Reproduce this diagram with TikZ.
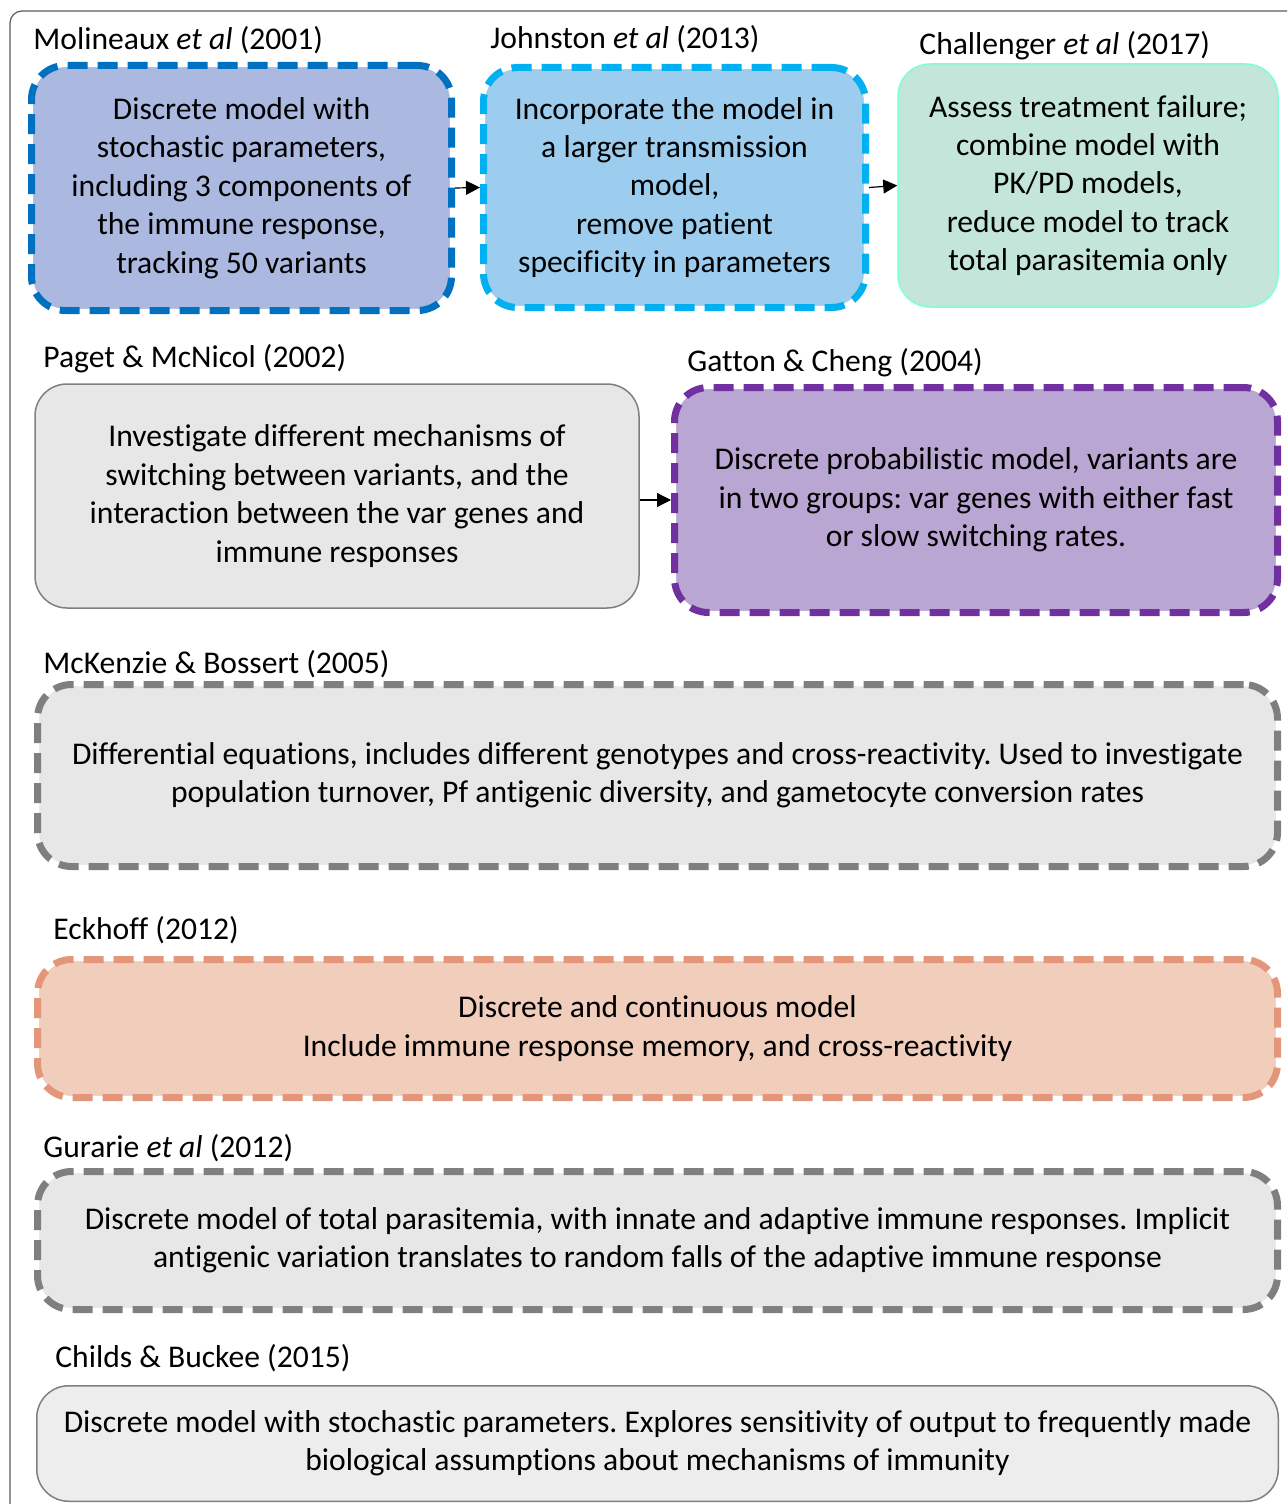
\documentclass[tikz,border=0pt]{standalone}
\usepackage{fontspec}
\setmainfont{Carlito}[Ligatures={NoCommon,NoContextual},RawFeature={-dlig}]
\usetikzlibrary{arrows.meta}
\definecolor{moliline}{HTML}{0070C0}
\definecolor{molifill}{HTML}{ABB9E0}
\definecolor{johnline}{HTML}{00B0F0}
\definecolor{johnfill}{HTML}{9DCDEE}
\definecolor{challline}{HTML}{7FFFD4}
\definecolor{challfill}{HTML}{C3E5DA}
\definecolor{gattline}{HTML}{7030A0}
\definecolor{gattfill}{HTML}{B9A6D2}
\definecolor{eckline}{HTML}{E3967A}
\definecolor{eckfill}{HTML}{F1CDBC}
\definecolor{greyline}{HTML}{7F7F7F}
\definecolor{greyfill}{HTML}{E7E7E7}
\definecolor{lightfill}{HTML}{EDEDED}
\definecolor{frameline}{HTML}{595959}
\frenchspacing

\begin{document}
\begin{tikzpicture}[x=.5pt,y=-.5pt,
    every node/.style={font=\fontsize{15.8}{19.2}\selectfont},
    lbl/.style={anchor=base west,inner sep=0pt},
    dbox/.style 2 args={align=center,rounded corners=17pt,line width=3.5pt,fill=#1,
      postaction={draw=white,line width=1.6pt},
      postaction={draw=#2,dash pattern=on 10pt off 5pt}},
    sbox/.style 2 args={align=center,rounded corners=16pt,line width=.75pt,fill=#1,draw=#2},
    arr/.style={-{Triangle[length=7pt,width=7pt]},line width=.6pt}]
      \clip (0,0) rectangle (1287,1504);
      \draw[frameline,line width=.6pt,rounded corners=6pt] (10,1540) |- (1320,11);

      \node[dbox={molifill}{moliline},minimum width=210pt,minimum height=122.5pt] (moli) at (241.5,188)
        {Discrete model with\\stochastic parameters,\\including 3 components of\\the immune response,\\tracking 50 variants};
      \node[dbox={johnfill}{johnline},minimum width=191pt,minimum height=120pt] (john) at (674.5,187.5)
        {Incorporate the model in\\a larger transmission\\model,\\remove patient\\specificity in parameters};
      \node[sbox={challfill}{challline},minimum width=190pt,minimum height=121.5pt] (chall) at (1088,185.5)
        {Assess treatment failure;\\combine model with\\PK/PD models,\\reduce model to track\\total parasitemia only};
      \node[lbl] (molit) at (33,50) {Molineaux \textit{et al} (2001)};
      \node[lbl] (johnt) at (490,49) {Johnston \textit{et al} (2013)};
      \node[lbl] (challt) at (919,55) {Challenger \textit{et al} (2017)};
      \draw[arr] (moli.east) -- (john.west);
      \draw[arr] (john.east) -- (chall.west);

      \node[sbox={greyfill}{greyline},minimum width=302pt,minimum height=112pt] (paget) at (337,496)
        {Investigate different mechanisms of\\switching between variants, and the\\interaction between the var genes and\\immune responses};
      \node[dbox={gattfill}{gattline},minimum width=301.5pt,minimum height=112.5pt] (gatt) at (976,500)
        {Discrete probabilistic model, variants are\\in two groups: var genes with either fast\\or slow switching rates.};
      \node[lbl] (pagett) at (43,367) {Paget \& McNicol (2002)};
      \node[lbl] (gattt) at (687,371) {Gatton \& Cheng (2004)};
      \draw[arr] (gatt.west -| paget.east) -- (gatt.west);

      \node[dbox={greyfill}{greyline},minimum width=620pt,minimum height=91pt] (mcken) at (657.5,775.5)
        {Differential equations, includes different genotypes and cross-reactivity. Used to investigate\\population turnover, Pf antigenic diversity, and gametocyte conversion rates};
      \node[lbl] (mckent) at (43,673) {McKenzie \& Bossert (2005)};

      \node[dbox={eckfill}{eckline},minimum width=620pt,minimum height=69pt] (eck) at (657.5,1028.5)
        {Discrete and continuous model\\Include immune response memory, and cross-reactivity};
      \node[lbl] (eckt) at (53,939) {Eckhoff (2012)};

      \node[dbox={greyfill}{greyline},minimum width=620pt,minimum height=69pt] (gur) at (657.5,1240.5)
        {Discrete model of total parasitemia, with innate and adaptive immune responses. Implicit\\antigenic variation translates to random falls of the adaptive immune response};
      \node[lbl] (gurt) at (43,1157) {Gurarie \textit{et al} (2012)};

      \node[sbox={lightfill}{greyline},minimum width=620.75pt,minimum height=57.75pt] (childs) at (657.5,1443.5)
        {Discrete model with stochastic parameters. Explores sensitivity of output to frequently made\\biological assumptions about mechanisms of immunity};
      \node[lbl] (childst) at (55,1367) {Childs \& Buckee (2015)};
\end{tikzpicture}
\end{document}
